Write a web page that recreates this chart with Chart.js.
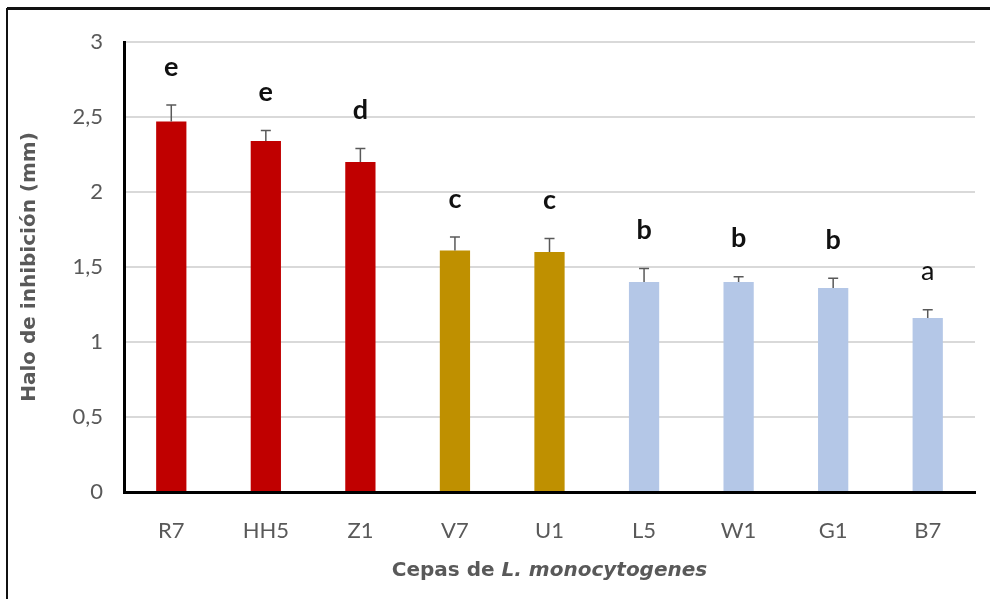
<!DOCTYPE html>
<html>
<head>
<meta charset="utf-8">
<script src="https://cdn.jsdelivr.net/npm/chart.js@4"></script>
<style>
  html, body { margin: 0; padding: 0; background: #fff; }
  #wrap { width: 990px; height: 599px; }
</style>
</head>
<body>
<div id="wrap"><canvas id="chartHalo"></canvas></div>
<script>
const cepas = ['R7', 'HH5', 'Z1', 'V7', 'U1', 'L5', 'W1', 'G1', 'B7'];
const halo = [2.47, 2.34, 2.20, 1.61, 1.60, 1.40, 1.40, 1.36, 1.16];
const erro = [0.11, 0.07, 0.09, 0.09, 0.09, 0.09, 0.035, 0.065, 0.055];
const letras = ['e', 'e', 'd', 'c', 'c', 'b', 'b', 'b', 'a'];
const cores = ['#C00000', '#C00000', '#C00000', '#BF9000', '#BF9000', '#B4C7E7', '#B4C7E7', '#B4C7E7', '#B4C7E7'];

const FONTE = 'Lato, "Open Sans", sans-serif';
const FONTE_TITULO = '"DejaVu Sans", sans-serif';
const CINZA = '#595959';

// fundo branco + moldura
const moldura = {
    id: 'moldura',
    beforeDraw(chart) {
        const c = chart.ctx;
        c.save();
        c.fillStyle = '#fff';
        c.fillRect(0, 0, chart.width, chart.height);
        c.strokeStyle = '#111';
        c.lineWidth = 3;
        c.beginPath();
        c.moveTo(7, 8.5);
        c.lineTo(chart.width, 8.5);
        c.stroke();
        c.lineWidth = 2;
        c.beginPath();
        c.moveTo(7, 8);
        c.lineTo(7, chart.height);
        c.stroke();
        c.restore();
    }
};

// barras de erro e letras
const erros = {
    id: 'erros',
    afterDatasetsDraw(chart) {
        const c = chart.ctx;
        const y = chart.scales.y;
        const meta = chart.getDatasetMeta(0);
        c.save();
        meta.data.forEach((bar, i) => {
            const topo = y.getPixelForValue(halo[i] + erro[i]);
            c.strokeStyle = CINZA;
            c.lineWidth = 1.5;
            c.beginPath();
            c.moveTo(bar.x, bar.y);
            c.lineTo(bar.x, topo);
            c.moveTo(bar.x - 5, topo);
            c.lineTo(bar.x + 5, topo);
            c.stroke();
            // letra de significancia
            c.fillStyle = '#111';
            c.font = (letras[i] === 'a' ? '' : 'bold ') + '27px ' + FONTE;
            c.textAlign = 'center';
            c.textBaseline = 'middle';
            c.fillText(letras[i], bar.x, topo - 38);
        });
        c.restore();
    }
};

// titulos dos eixos (com parte em italico)
const titulos = {
    id: 'titulos',
    afterDraw(chart) {
        const c = chart.ctx;
        const area = chart.chartArea;
        c.save();
        c.fillStyle = CINZA;
        c.textBaseline = 'middle';
        // eixo x
        const p1 = 'Cepas de ', p2 = 'L. monocytogenes';
        c.font = 'bold 20px ' + FONTE_TITULO;
        const w1 = c.measureText(p1).width;
        c.font = 'italic bold 20px ' + FONTE_TITULO;
        const w2 = c.measureText(p2).width;
        let x0 = (area.left + area.right) / 2 - (w1 + w2) / 2;
        c.textAlign = 'left';
        c.font = 'bold 20px ' + FONTE_TITULO;
        c.fillText(p1, x0, 571);
        c.font = 'italic bold 20px ' + FONTE_TITULO;
        c.fillText(p2, x0 + w1, 571);
        // eixo y
        c.translate(30, (area.top + area.bottom) / 2);
        c.rotate(-Math.PI / 2);
        c.textAlign = 'center';
        c.font = 'bold 20px ' + FONTE_TITULO;
        c.fillText('Halo de inhibición (mm)', 0, 0);
        c.restore();
    }
};

function carregarGrafico() {
    const ctx = document.getElementById('chartHalo').getContext('2d');
    const grafico = new Chart(ctx, {
        type: 'bar',
        data: {
            labels: cepas,
            datasets: [{
                data: halo,
                backgroundColor: cores,
                barPercentage: 0.32,
                categoryPercentage: 1
            }]
        },
        options: {
            responsive: true,
            maintainAspectRatio: false,
            animation: false,
            layout: { padding: { left: 0, right: 15, top: 42, bottom: 0 } },
            scales: {
                x: {
                    grid: { display: false },
                    border: { color: '#000', width: 3 },
                    ticks: { color: CINZA, font: { family: FONTE, size: 22 }, padding: 18 },
                    afterFit(scale) { scale.height = 107; }
                },
                y: {
                    min: 0,
                    max: 3,
                    ticks: {
                        stepSize: 0.5,
                        color: CINZA,
                        font: { family: FONTE, size: 22 },
                        padding: 21,
                        callback: v => String(v).replace('.', ',')
                    },
                    grid: { color: '#D9D9D9', lineWidth: 2, drawTicks: false },
                    border: { color: '#000', width: 3 },
                    afterFit(scale) { scale.width = 124; }
                }
            },
            plugins: {
                legend: { display: false },
                tooltip: { enabled: false }
            }
        },
        plugins: [moldura, erros, titulos]
    });
    window.grafico = grafico;
}

carregarGrafico()
</script>
</body>
</html>
